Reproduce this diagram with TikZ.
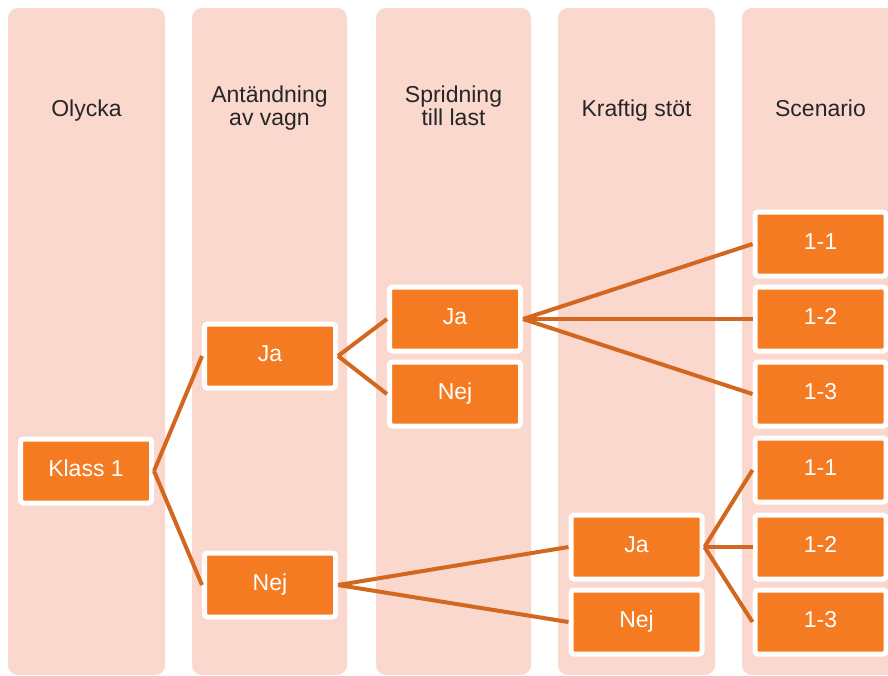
\documentclass[tikz,border=0pt]{standalone}
\usepackage{fontspec}
\setmainfont{Liberation Sans}
\definecolor{colbg}{RGB}{251,216,205}
\definecolor{boxfill}{RGB}{244,123,34}
\definecolor{linkcol}{RGB}{210,104,32}

\begin{document}
\begin{tikzpicture}[x=1pt, y=-1pt,
  col/.style={fill=colbg, rounded corners=10pt},
  box/.style={rectangle, fill=boxfill, draw=white, line width=5pt, rounded corners=3pt,
    minimum width=131pt, minimum height=64pt, text=white,
    font=\fontsize{23}{23}\selectfont, text height=16.5pt, text depth=5pt},
  head/.style={font=\fontsize{23}{23}\selectfont, text=black!85, align=center,
    anchor=base, inner sep=0pt},
  link/.style={draw=linkcol, line width=4pt}]
\clip (0,0) rectangle (888,675);
\fill[col] (8,8) rectangle (165,675);
\fill[col] (192,8) rectangle (347,675);
\fill[col] (376,8) rectangle (531,675);
\fill[col] (558,8) rectangle (715,675);
\fill[col] (742,8) rectangle (899,675);
\node[head] (hOlycka) at (86.5,116) {Olycka};
\node[head] (hAnt) at (269.5,125) {Antändning\\av vagn};
\node[head] (hSpr) at (453.5,125) {Spridning\\till last};
\node[head] (hStot) at (636.5,116) {Kraftig stöt};
\node[head] (hScen) at (820.5,116) {Scenario};
\node[box] (klass) at (86,471) {Klass 1};
\node[box] (antJa) at (270,356) {Ja};
\node[box] (antNej) at (270,585) {Nej};
\node[box] (sprJa) at (455,319) {Ja};
\node[box] (sprNej) at (455,394) {Nej};
\node[box] (stotJa) at (636.5,547) {Ja};
\node[box] (stotNej) at (636.5,622) {Nej};
\node[box] (scA1) at (820.5,244) {1-1};
\node[box] (scA2) at (820.5,319) {1-2};
\node[box] (scA3) at (820.5,394) {1-3};
\node[box] (scB1) at (820.5,470) {1-1};
\node[box] (scB2) at (820.5,547) {1-2};
\node[box] (scB3) at (820.5,622) {1-3};
\draw[link] (klass.east) -- (antJa.west);
\draw[link] (klass.east) -- (antNej.west);
\draw[link] (antJa.east) -- (sprJa.west);
\draw[link] (antJa.east) -- (sprNej.west);
\draw[link] (antNej.east) -- (stotJa.west);
\draw[link] (antNej.east) -- (stotNej.west);
\draw[link] (sprJa.east) -- (scA1.west);
\draw[link] (sprJa.east) -- (scA2.west);
\draw[link] (sprJa.east) -- (scA3.west);
\draw[link] (stotJa.east) -- (scB1.west);
\draw[link] (stotJa.east) -- (scB2.west);
\draw[link] (stotJa.east) -- (scB3.west);
\end{tikzpicture}
\end{document}
